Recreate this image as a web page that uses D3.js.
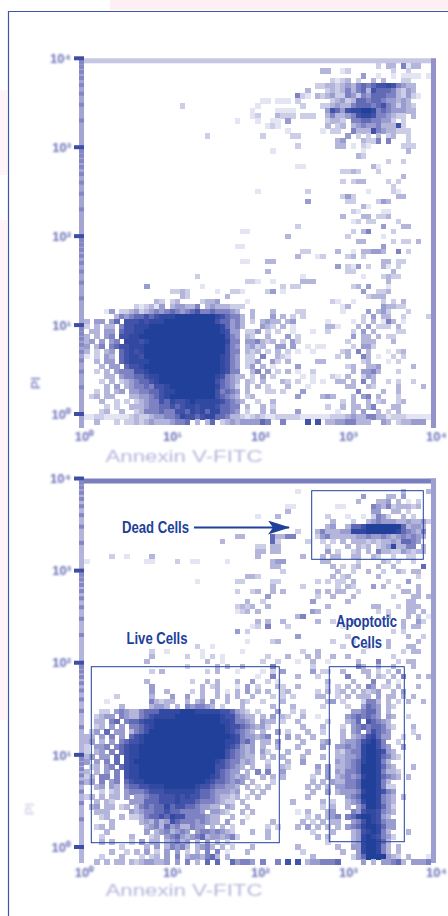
<!DOCTYPE html>
<html>
<head>
<meta charset="utf-8">
<style>
  html, body { margin: 0; padding: 0; background: #fff; }
  svg { display: block; }
</style>
</head>
<body>
<svg class="chart"></svg>
<script src="https://d3js.org/d3.v7.min.js"></script>
<script>
// event counts per bin, 0 (.) to 9, spaces are only there to help counting columns
var topRows = [
".......... .......... .......... .......... .......... ........2. 33.5133..",
".......... .......... .......... .......... .......33. .12....... .2..2....",
".......... .......... .......... .......... .......... .....4..1. .1.1111.1",
".......... .......... .......... .......... .........2 123.2..3.3 ...22....",
".......... .......... .......... .......... ......2233 2343565677 875433...",
".......... .......... .......... .......... ....3...23 2353563766 653243...",
".......... .......... .......... .......... ..521.3234 2254254666 5532421..",
".......... .......... .......... .....11.11 1.2......2 3423665665 44343....",
".......... .........2 .......... ....1..... ...2...223 4335666567 542432...",
".......... .......... .......... ...1....11 11......47 6478899856 544433...",
".......... .......... .......... ...12...32 22.222..35 3345788755 4322.3...",
".......... .......... .......... 1...1..11. 4.......23 32.5566554 42.2.....",
".......... .......... .......... ......121. ........3. 23.3454453 3372.....",
".......... .......... .......... .......... 1......1.2 2..5333754 33222....",
".......... .......... ....2..... .....2.... .22....... ..4.2.2.3. 23..2....",
".......... .......... .......... .......... .......... 34...3225. 5...2....",
".......... .......... .......... .......... ..2....... 33.1.21... ...222...",
".......... .......... .......... .......1.. .......... .....1.... ....3....",
".......... .......... .......... .......... .......... ....32.... .........",
".......... .......... .......... .......... .......... .......... 2..2.....",
".......... .......... .......... .......... ..11...... .......31. .........",
".......... .......... .......... .......... .......... .2232...2. .........",
".......... .......... .......... .......... .......... .......... ...3.....",
".......... .......... .......... .......... .......... .2.233.... 2.2......",
".......... .......... .......... .......... .......... .......... .2.......",
".......... .......... .......... ....1..... ....2..... ......1... .21......",
".......... .......... .......... .......... .......... .242...... ..33.....",
".......... .......... .......... .......... ....4..... ..22....24 3........",
".......... .......... .......... .......... .......... .....31... .........",
".......... .......... .......... .......... .......... ...21....1 1........",
".......... .......... .......... .......... .......... .3...33.22 3........",
".......... .......... .......... .......... .......... ...12.22.. ..2......",
".......... .......... .......... .......... ..2....... .........4 ...33....",
".......... .......... .......... .11....... .......... ...2.35... .2.......",
".......... .......... .......... .......... 3......... ..2......1 .........",
".......... .......... .......... .......... .......... ....33.... .2.22.3..",
".......... .......... .......... 11........ .......... .........4 .........",
".......... .......... .......... .......... ...22..... 3..1.33443 ..5.2....",
".......... .......... .......... .......... ..3...12.. ..23.2.... .........",
".......... .......... .......... .11...33.. .......... .........3 3.22.....",
".......... .......... .......... .......... .......... 4.214.2..3 1.2......",
".......... .......... .......... ......3... .......... ..22...... .3.......",
".......... .......... ..2....... .......... ...1...... .....1...2 322......",
".......... .......... .......... ..221..1.. ...333.... .......... 3........",
".......... ..4....... ...1...... .........2 .22....... ...23.4... 1........",
".......... .......223 2.....1..2 21....24.1 .......... .....4..22 3........",
".......... .........3 2.......3. .......... .......... ......2333 .........",
".......... ....32.23. ...2334... ..1....... .........2 1..1.....2 .2.3.....",
".......... 212314.344 335.343332 22........ .......... .13......4 3322.....",
"....14.223 4234545654 5675565554 3..3...3.. ..22...... .1....4.34 2...2....",
"......3545 6676788899 9999998765 53.3...4.3 .2.2...... .....2.4.3 3..2....2",
"3.44.46.77 7878889999 9999997664 53.2.3433. 34......1. ...1.2.3.1 53.1.....",
"2.3.33.577 8889999999 9999999864 53...432.3 .1......33 1...3.4.22 2.3......",
".33.44.677 8899999999 9999999874 4.224.2.2. .1...1..2. ...2.4.3.. ..22.....",
"3.3.45.778 8999999999 9999999975 4.32..3... 4.2....... ...4.33.3. 22.......",
"34.4.45.88 8789999999 9999999985 5.445323.2 .42....... ..2..333.. .3.......",
"4.35.56778 8899999999 9999999975 4.3423..44 .4..1.11.. ...2.442.. .........",
"3.2.34.678 7899999999 9999999975 5.323.2.3. 2.1..1.... .23.5.3... 1.23.....",
"1.2.43.678 8799999999 9999999875 4.22.5..32 1......... 2.3..53.1. .2.2.....",
"..3.44.678 8889999999 9999999875 4.224..42. 3.....33.. .....23... 1.2......",
"...3.44.67 7899999999 9999999875 4.24.3.1.. ..4....... ..23..334. .....3...",
"..2.3.4555 7789999999 9999999875 5..35.4.2. 3.1..2.... ...3.4453. ..2......",
"....33.455 6678899999 9999998754 33.2.4.2.. ...1.1...2 1.3..243.. .........",
"...2.3.234 5667899999 9999997654 3.32.3...3 2.2..1.1.. 33.3.5.3.. 2.2..2...",
"....3.4.34 5565778999 9999998654 2.3.3.2... 3...1..... ..33..32.. ..3....3.",
"..2.3.34.4 4556678899 9999997565 4.3...22.2 ...4...... ....5....3 ..3......",
".23.33...3 3445678999 9999997654 3.23...... ..4....343 ...3.45.3. ..2......",
"...3..2.2. 2345576877 8988888765 43..2..3.. .......... .2.3..3.23 ..23.....",
"....2.2..3 3345566767 8878887665 5.3..3.2.. ........2. .3.33.35.. .33......",
"...23..3.. 2355565577 6878688665 4.2..3.3.. ..4....... 1..3.4..3. 2.3......",
"1122111112 3223445568 7767886653 3212321122 2221111112 2234335533 122211111",
"..3...2.22 3234333455 6.3.36.234 3444465..5 ....7.7.33 4455333..4 3.233444."
];

var bottomRows = [
".......... .......... .......... .......... .......... .......... .........",
".......... .......... .......... .......... ..1....... .......... ...3....3",
".......... .......... .......... .......... .......... .....4.... 33.4.....",
".......... .......... .......... .......... .......... ....3...33 4.3.1.2..",
".......... .......... .......... .......... 11........ 11.....543 5233323..",
".......... .......... .......... .......... 3......... .......44. .33.2....",
".......... .......... .......... ....1...3. ........2. ..1..1.254 2..3.2...",
".......... .......... .......... .......... .........3 ...2..3454 443343342",
".......... .......... .......... .......... ........34 ..36679999 99963443.",
".......... .......... .......... .......... ..2...3533 3448889999 99865435.",
".......... .......... .......... 33.....633 55....2453 3333445445 43454543.",
".......... .......... .......3.. .......62. ....2..2.2 .3.3332323 3436654..",
".......... .......... .......... ....22.33. ........2. ..3.323.23 483355.3.",
".......... .......... .......... ....33.33. ........4. 2..23.3.53 32243233.",
".....2..1. ...3...... .......... ....3..... ...3...3.3 3..33..32. .2..22...",
"1......... ..11....2. .11.....1. .......344 .......33. ....2....3 2.2..2...",
".......... .......... .......... .......33. .........3 .2.23...3. .3.....6.",
".......... .......... .......... .........2 .......... 3..2..3..2 ..32.33..",
".......... .......... .......... ..332..... .........3 .23.....3. ......2..",
".......... .......... ..1....... 22.....22. ......2.2. 22.3...... 2...4....",
".......... .......... .......... .......3.. ...2...... 2.32...4.3 ..2...3..",
".......... .......... .......... 2..23..3.3 ......3.3. 33..2..... ...33.3..",
".......... .......... .......... ......4... ......2..3 ...3...... .2...33.3",
".......... .......... .......... ..3..2.... .....4.... ..3....... ....33...",
".......... .......... .......... 2323..3... ........3. .......33. ..2.333..",
".......... .......... .......... 123.3..... .....43... ........2. 2...33.3.",
".......... .......... .......... .......... ..35...... .......... 3...3.3.1",
".......... .......... .......... ....3.3..3 ......3..2 ...3...... ...3..42.",
".......... .......... .......... ...12.5... 2......... .1........ ...3.33..",
".......... .......... .......... 4.2....... .......... .......... .2.2.....",
".......... .......... .......... .......... ..4....... ..2....... ....3..2.",
".......... .......... .......... ..1....23. .........2 ...2...... 3.....3..",
".......... .......... ..2..1.... .......... .......... .2....2... 3...33...",
".......... ...2..1... ...1...... .1........ ...2..3... .....2.... ...2.33..",
".......... ...3...... 2..1.2.1.. ......2... 3...3.3..3 ..3....... .2.......",
".......... ..3....... ....3..1.. .....2..2. ..1..3..1. ....3...5. ..2.33...",
".......... .......... 2.....3.3. .3.....5.. .....2.... ....53..3. .3...3...",
".......... ...2.3.... ....2.3... 1....1.2.4 .....4.22. .3...33.2. 2.4......",
".......... .......... .......... ....1..5.. ..3...2... ..5...3.32 .3.5..3.3",
".......... ..3....... .2..3.3... 3..4..2.1. ........3. ...3...5.. 3.1......",
".......... ...4...... ...3.23... 1.4.2...32 ..3.....2. 2.3.3.54.2 2.3...3..",
".......... ...4..3... .2.3..3.1. 3.4.3.3..2 3.....2.3. 23.3.3234. .3.4.....",
"......2... ...3...4.. 4..3..3.3. 3..3...2.2 .2....33.. 2.3.333.4. 33.3.3...",
"....1..... ...53233.. 3.34.4..3. .32..2...3 ........34 .2...2553. 3.2.3..3.",
".......3.. ...3443.3. 545543.2.. .3.....3.. .3.....2.. ..2..4654. 32.......",
"...22.4543 3566688889 9988888776 432.2...4. .2.2...... ...445664. 3........",
"..2344.543 3567888899 9999999877 5433.3.4.3 2..3..1... ..4565654. 43..2....",
"..33.56.56 6788999999 9999999887 5543.433.2 ..3.....2. ..346.7654 3........",
"..23.4.4.5 5678999999 9999999987 7654342... ...3...3.. .2.4565665 32...3...",
".24.6.44.3 5679999999 9999999987 6543.3..4. 2...3..2.. .3.45.5765 4....2...",
"33.4.5.4.6 7899999999 9999999998 7544345... 4.3..3.... .3.3457864 4..2..3..",
"34.3.4.567 7899999999 9999999988 7564.33.4. ...3...34. .344578975 ..2......",
"2.445.5678 8999999999 9999999987 6434.3..3. ..3....4.. 4454589975 4..4.....",
"2.34.5.678 8999999999 9999999976 5434.42... 3...3..... 3245589987 43.......",
"34.44.6.78 8999999999 9999999976 5433.3.3.3 ...3...3.. 3344589986 532......",
"4.4.5.6.78 9999999999 9999998765 5343..2... 3..4...... 4345689985 3........",
".23.45.678 8999999999 9999997765 43.3..3..3 2.....4.4. 3345699986 43...3...",
"3.3.4.5.78 8999999999 9999997654 4.3.5.5..4 ......3.4. 4355699985 332......",
"23.55.5.78 8999999999 9999987654 343..3.3.3 .....2..4. 3454589986 543.3....",
"34.5.45.67 8899999999 9999876654 54.3...2.. .....3.3.4 3355699985 3........",
"..34.43.56 6778889999 9987765544 3.3.2.3... ....3.3.3. 4455699985 22.......",
"...2.23.45 5567778888 8876654443 4..3.3.... .....3..4. 3444589987 54.......",
"23.3.33.4. 4456677787 8776654332 3.2.3..... ....3..... ..45699985 43.3.....",
"..3.32...4 4466677787 7765554322 .3........ .3.....3.2 ..34589985 43.......",
".34.33.23. 3565668677 6654433.43 ..3....... .......2.3 ..3.469986 42.......",
"..333....4 3455667665 5554.4432. .3.3...... ..1.3...34 ...5478875 43.......",
"...23..3.2 2356676877 5555433..3 ..1....... ....2.3.34 5.56899874 3........",
".....3.... .343534765 5545433.4. .3.....3.. ...3.2.3.3 3..4579875 44.......",
"..23.3.... ..34536453 3544.3.3.2 ......2.2. ..3.4.3.3. 3.45689986 44.......",
"....3..... ..4.345345 4.45545432 ...3..3... .....2...3 ...3478985 3...3....",
"...2.....3 ...23.4564 3456344345 2.....3... ......3.3. ...3489875 42.......",
"...3.3...2 .4.33.3453 4.3.4.3.2. .......... ........2. ...3489986 3........",
".......2.. ..3.4.3545 3.3453.3.2 ...3...... ..3....... 3..4489985 3.3......",
".....3..2. 3.4.2.4.4. 2.3.5.5.1. ..3....... ...2...... .3..489985 3.3......",
"...2...3.. .2.23.4.5. 3443563.3. .......... .....3.... ...2469999 432.3...1",
"..3.3.33.3 2344334.4. 5.3.6.6..6 4554.5..5. 7.7.344555 6....4.3.4 4563.4445"
];

var tickValues = [1, 10, 100, 1000, 10000];
var tickSup = ["⁰", "¹", "²", "³", "⁴"];
var xTitle = "Annexin V-FITC";
var yTitle = "PI";

var width = 448, height = 916;
var blue = "#21409a";

var shade = d3.scaleLinear()
    .domain([0, 1, 3, 5, 7, 9])
    .range(["#ffffff", "#e4e5f3", "#b3b5db", "#7f82c2", "#4252a8", blue]);

var svg = d3.select("svg")
    .attr("width", width)
    .attr("height", height)
    .attr("viewBox", [0, 0, width, height]);

var defs = svg.append("defs");
defs.append("filter").attr("id", "soft")
    .append("feGaussianBlur").attr("stdDeviation", 0.8);
defs.append("marker").attr("id", "head")
    .attr("viewBox", "0 0 22 14").attr("refX", 21).attr("refY", 7)
    .attr("markerWidth", 22).attr("markerHeight", 14).attr("markerUnits", "userSpaceOnUse")
    .attr("orient", "auto")
  .append("path").attr("d", "M0,0L22,7L0,14L5,7Z").attr("fill", blue);

// pale pink bleeding in round the page frame
svg.append("rect").attr("x", 110).attr("y", 0).attr("width", 338).attr("height", 10).attr("fill", "#fdeff3");
[[30, 85], [160, 130], [262, 180], [380, 120], [500, 160]].forEach(function (b) {
  svg.append("rect").attr("x", 0).attr("y", b[0] + 60).attr("width", 7).attr("height", b[1]).attr("fill", "#fef3f6");
});

svg.append("path")
    .attr("d", `M8.5,${height}V11.5H${width}`)
    .attr("fill", "none").attr("stroke", "#3f55a8").attr("stroke-width", 1.2);

function panel(rows, o) {
  var g = svg.append("g");
  var cells = [];
  rows.forEach(function (row, r) {
    row.replace(/ /g, "").split("").forEach(function (c, i) {
      if (c !== ".") cells.push({r: r + 1, i: i + 1, v: +c});
    });
  });

  var nRows = rows.length + 1;
  var x = d3.scaleBand().domain(d3.range(71)).range([79, 436]);
  var y = d3.scaleBand().domain(d3.range(nRows)).range([o.top, o.top + nRows * 5.01]);

  // frame bars
  g.append("rect").attr("x", x(0)).attr("y", y(0)).attr("width", 357).attr("height", y.bandwidth()).attr("fill", o.topBar);
  g.append("rect").attr("x", x(70)).attr("y", y(0)).attr("width", x.bandwidth()).attr("height", o.barEnd - o.top).attr("fill", o.rightBar);
  g.append("rect").attr("x", x(0)).attr("y", y(0)).attr("width", x.bandwidth()).attr("height", o.barEnd - o.top).attr("fill", o.leftBar);

  g.append("g").attr("shape-rendering", "crispEdges").selectAll("rect")
    .data(cells)
    .join("rect")
      .attr("x", d => x(d.i))
      .attr("y", d => y(d.r))
      .attr("width", x.bandwidth() + 0.5)
      .attr("height", y.bandwidth() + 0.5)
      .attr("fill", d => shade(d.v));

  // log axes, the minor ticks show as darker blocks on the bars
  var xLog = d3.scaleLog().domain([1, 10000]).range([84, 436]);
  var yLog = d3.scaleLog().domain([1, 10000]).range([o.axisY, o.top]);
  var major = d => Number.isInteger(Math.log10(d));

  g.append("g").selectAll("rect")
    .data(yLog.ticks())
    .join("rect")
      .attr("x", d => major(d) ? 74 : 79)
      .attr("y", d => yLog(d) - 2)
      .attr("width", d => major(d) ? 10 : 5)
      .attr("height", 4)
      .attr("fill", d => major(d) ? "#3f4ea4" : "#8587c4");

  var fmt = d => "10" + tickSup[Math.round(Math.log10(d))];
  var styleTicks = a => a.selectAll("text")
      .attr("fill", "#6a70b8").attr("font-size", 13).attr("font-weight", "bold")
      .attr("font-family", "Liberation Sans").attr("filter", "url(#soft)");

  g.append("g")
      .attr("transform", `translate(0,${o.xTickY})`)
      .call(d3.axisBottom(xLog).tickValues(tickValues).tickFormat(fmt).tickSize(0).tickPadding(0))
      .call(a => a.select(".domain").remove())
      .call(styleTicks);

  g.append("g")
      .attr("transform", "translate(71,0)")
      .call(d3.axisLeft(yLog).tickValues(tickValues).tickFormat(fmt).tickSize(0).tickPadding(0))
      .call(a => a.select(".domain").remove())
      .call(styleTicks);

  g.append("text")
      .attr("x", 184).attr("y", o.titleY)
      .attr("text-anchor", "middle")
      .attr("textLength", 157).attr("lengthAdjust", "spacingAndGlyphs")
      .attr("font-family", "Liberation Sans").attr("font-size", 16)
      .attr("fill", "#b4b6dc").attr("filter", "url(#soft)")
      .text(xTitle);

  g.append("text")
      .attr("transform", `translate(${o.piX},${o.piY}) rotate(-90)`)
      .attr("text-anchor", "middle")
      .attr("font-family", "Liberation Sans").attr("font-size", 13).attr("font-weight", "bold")
      .attr("fill", o.piFill).attr("filter", "url(#soft)")
      .text(yTitle);

  return g;
}

panel(topRows, {top: 58.3, axisY: 414, barEnd: 428, xTickY: 432, titleY: 462,
  topBar: "#c6c7e4", leftBar: "#a3a5d3", rightBar: "#9393c9", piX: 40, piY: 383, piFill: "#8e90c8"});
var lower = panel(bottomRows, {top: 478.5, axisY: 847, barEnd: 863, xTickY: 868, titleY: 896,
  topBar: "#7a7dbe", leftBar: "#b2b4db", rightBar: "#9c9fd0", piX: 34, piY: 809, piFill: "#d6d7ec"});

// gates
var gates = [
  {x: 311.7, y: 490.7, w: 111.6, h: 68.6},
  {x: 91.3, y: 666.7, w: 188, h: 176},
  {x: 329.3, y: 666.7, w: 75, h: 175}
];
lower.append("g").selectAll("rect")
  .data(gates)
  .join("rect")
    .attr("x", d => d.x).attr("y", d => d.y)
    .attr("width", d => d.w).attr("height", d => d.h)
    .attr("fill", "none").attr("stroke", blue).attr("stroke-width", 1);

var labels = [
  {t: "Dead Cells", x: 155.5, y: 533, w: 67},
  {t: "Live Cells", x: 157, y: 644, w: 61},
  {t: "Apoptotic", x: 366.5, y: 627, w: 61},
  {t: "Cells", x: 366.5, y: 648, w: 31}
];
lower.append("g").selectAll("text")
  .data(labels)
  .join("text")
    .attr("x", d => d.x).attr("y", d => d.y)
    .attr("text-anchor", "middle")
    .attr("textLength", d => d.w).attr("lengthAdjust", "spacingAndGlyphs")
    .attr("font-family", "Liberation Sans")
    .attr("font-weight", "bold").attr("font-size", 16)
    .attr("fill", blue)
    .text(d => d.t);

lower.append("line")
    .attr("x1", 194).attr("y1", 527.5).attr("x2", 289).attr("y2", 527.5)
    .attr("stroke", blue).attr("stroke-width", 1.8)
    .attr("marker-end", "url(#head)");
</script>
</body>
</html>
